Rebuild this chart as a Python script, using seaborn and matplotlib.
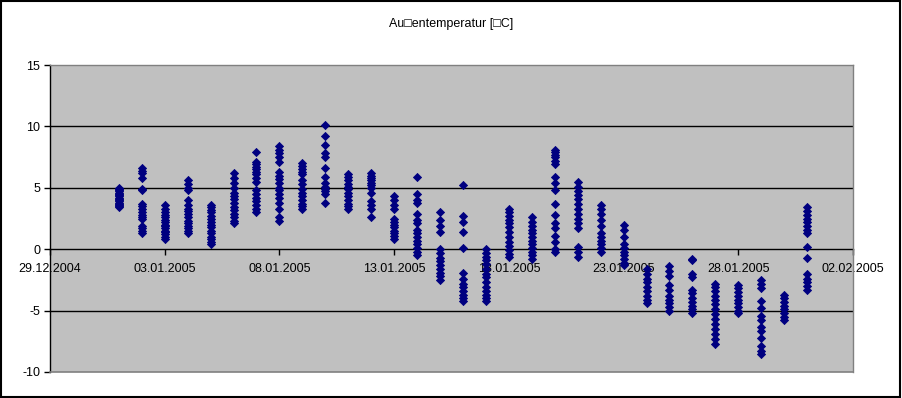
import numpy as np
import pandas as pd
import matplotlib
matplotlib.use("Agg")
import matplotlib.pyplot as plt
import matplotlib.dates as mdates
from matplotlib.patches import Rectangle
import seaborn as sns

plt.rcParams['font.family'] = ['Liberation Sans', 'DejaVu Sans']
plt.rcParams['axes.unicode_minus'] = False

title = "Au\u25a1entemperatur [\u25a1C]"

# temperature readings per day (January 2005)
t01 = [5.0, 4.9, 4.8, 4.7, 4.6, 4.5, 4.4, 4.3, 4.2, 4.1, 4.0, 3.9, 3.8, 3.7, 3.6, 3.5, 3.4]
t02 = [6.6, 6.4, 6.2, 5.8, 4.9, 4.8, 3.7, 3.5, 3.3, 3.0, 2.8, 2.6, 2.5, 1.9, 1.7, 1.5, 1.3]
t03 = [3.6, 3.3, 3.0, 2.8, 2.6, 2.4, 2.2, 2.0, 1.9, 1.7, 1.5, 1.4, 1.2, 1.0, 0.8]
t04 = [5.6, 5.3, 5.0, 4.8, 4.0, 3.6, 3.3, 3.1, 2.9, 2.6, 2.3, 2.1, 1.9, 1.7, 1.5, 1.3]
t05 = [3.6, 3.4, 3.2, 3.0, 2.7, 2.5, 2.2, 2.0, 1.8, 1.5, 1.3, 1.0, 0.8, 0.6, 0.4]
t06 = [6.2, 5.8, 5.4, 5.0, 4.6, 4.3, 4.1, 3.8, 3.4, 3.2, 2.9, 2.6, 2.3, 2.1]
t07 = [7.9, 7.1, 6.9, 6.7, 6.5, 6.3, 6.1, 5.8, 5.5, 4.8, 4.5, 4.2, 3.9, 3.6, 3.3, 3.0]
t08 = [8.4, 8.1, 7.8, 7.5, 7.1, 6.3, 6.0, 5.7, 5.4, 5.0, 4.8, 4.5, 4.2, 3.8, 3.3, 2.6, 2.3]
t09 = [7.0, 6.8, 6.5, 6.3, 6.1, 5.6, 5.3, 4.9, 4.6, 4.3, 4.0, 3.7, 3.5, 3.3]
t10 = [10.1, 9.2, 8.5, 7.8, 7.5, 6.6, 5.9, 5.4, 5.1, 4.9, 4.7, 4.5, 3.8]
t11 = [6.1, 5.9, 5.6, 5.3, 5.1, 4.9, 4.6, 4.3, 4.0, 3.7, 3.5, 3.3]
t12 = [6.2, 6.0, 5.8, 5.6, 5.4, 5.2, 5.0, 4.6, 3.9, 3.6, 3.3, 2.6]
t13 = [4.3, 4.0, 3.6, 3.3, 2.5, 2.2, 2.0, 1.8, 1.5, 1.3, 1.1, 0.8]
t14 = [5.9, 4.5, 4.0, 3.8, 2.9, 2.4, 2.1, 1.6, 1.3, 1.0, 0.7, 0.4, 0.1, -0.2, -0.5]
t15 = [3.0, 2.4, 1.9, 1.4, 0.0, -0.3, -0.7, -1.0, -1.3, -1.6, -1.9, -2.2, -2.5]
t16 = [5.2, 2.7, 2.2, 1.4, 0.1, -1.9, -2.4, -2.8, -3.1, -3.4, -3.7, -4.0, -4.2]
t17 = [0.0, -0.3, -0.6, -0.9, -1.2, -1.6, -2.0, -2.3, -2.7, -3.1, -3.4, -3.7, -4.0, -4.2]
t18 = [3.3, 3.0, 2.7, 2.4, 2.1, 1.8, 1.4, 1.0, 0.6, 0.3, -0.1, -0.4, -0.6]
t19 = [2.6, 2.2, 1.9, 1.6, 1.3, 1.0, 0.7, 0.4, 0.1, -0.2, -0.5, -0.8]
t20 = [8.1, 7.9, 7.7, 7.5, 7.2, 6.9, 5.9, 5.4, 4.8, 3.7, 2.8, 2.1, 1.7, 1.1, 0.6, 0.0, -0.2]
t21 = [5.5, 5.1, 4.7, 4.4, 4.1, 3.7, 3.3, 2.9, 2.5, 2.1, 1.7, 0.2, -0.2, -0.6]
t22 = [3.6, 3.3, 2.9, 2.4, 1.9, 1.3, 1.0, 0.7, 0.4, 0.1, -0.2]
t23 = [2.0, 1.6, 1.0, 0.4, 0.1, -0.2, -0.5, -0.8, -1.1, -1.3]
t24 = [-1.6, -2.0, -2.4, -2.7, -3.1, -3.4, -3.8, -4.1, -4.4]
t25 = [-1.4, -1.8, -2.2, -2.9, -3.3, -3.8, -4.1, -4.4, -4.7, -5.0]
t26 = [-0.8, -0.9, -2.0, -2.3, -3.3, -3.6, -4.0, -4.3, -4.6, -4.9, -5.2]
t27 = [-2.8, -3.1, -3.4, -3.8, -4.1, -4.5, -4.9, -5.3, -5.7, -6.1, -6.5, -6.9, -7.3, -7.7]
t28 = [-2.9, -3.2, -3.5, -3.8, -4.1, -4.4, -4.7, -5.0, -5.2]
t29 = [-2.5, -2.8, -3.2, -4.2, -4.8, -5.4, -5.8, -6.3, -6.7, -7.2, -7.9, -8.3, -8.5]
t30 = [-3.7, -4.0, -4.3, -4.6, -4.9, -5.2, -5.5, -5.8]
t31 = [3.4, 3.1, 2.8, 2.5, 2.2, 1.9, 1.6, 1.3, 0.2, -0.7, -2.0, -2.4, -2.7, -3.0, -3.3]

days = pd.date_range("2005-01-01", "2005-01-31", freq="D")
daily = [t01, t02, t03, t04, t05, t06, t07, t08, t09, t10, t11, t12, t13, t14, t15, t16,
         t17, t18, t19, t20, t21, t22, t23, t24, t25, t26, t27, t28, t29, t30, t31]

x_ticks = pd.date_range("2004-12-29", "2005-02-02", freq="5D")
y_ticks = [-10, -5, 0, 5, 10, 15]

rows = []
for d, vals in zip(days, daily):
    for v in vals:
        rows.append((d, v))
df = pd.DataFrame(rows, columns=["Datum", "Temperatur"])

fig = plt.figure(figsize=(9.02, 3.98), dpi=100)
fig.patch.set_facecolor("white")
ax = fig.add_axes([50/902, 1 - 372/398, 803/902, 307/398])
ax.set_facecolor("#c0c0c0")

for g in [-5, 5, 10]:
    ax.axhline(g, color="black", lw=1, zorder=1)

sns.scatterplot(data=df, x="Datum", y="Temperatur", ax=ax, marker="D", s=17,
                color="#000080", edgecolor="#000080", linewidth=0.6, zorder=3,
                legend=False)

ax.set_xlim(x_ticks[0], x_ticks[-1])
ax.set_ylim(-10, 15)
ax.set_xticks(x_ticks)
ax.xaxis.set_major_formatter(mdates.DateFormatter("%d.%m.%Y"))
ax.set_yticks(y_ticks)
ax.set_yticklabels([str(v) for v in y_ticks])
ax.set_xlabel("")
ax.set_ylabel("")

ax.spines["bottom"].set_position(("data", 0))
ax.spines["bottom"].set_color("black")
ax.spines["bottom"].set_zorder(2)
ax.spines["left"].set_color("black")
ax.spines["top"].set_color("#808080")
ax.spines["right"].set_color("#808080")
for s in ax.spines.values():
    s.set_linewidth(1)
ax.axhline(-10, color="#808080", lw=1.2, zorder=4, clip_on=False)

ax.tick_params(axis="x", direction="out", length=4, width=1, pad=6, labelsize=9,
               colors="black")
ax.tick_params(axis="y", direction="out", length=4, width=1, pad=3, labelsize=9,
               colors="black")

fig.text(451/902, 1 - 24/398, title, ha="center", va="center", fontsize=9)

fig.add_artist(Rectangle((0.5/902, 1.5/398), 899/902, 396/398, transform=fig.transFigure,
                         fill=False, edgecolor="black", lw=1.5))

fig.savefig("out.png", dpi=100, facecolor="white")
